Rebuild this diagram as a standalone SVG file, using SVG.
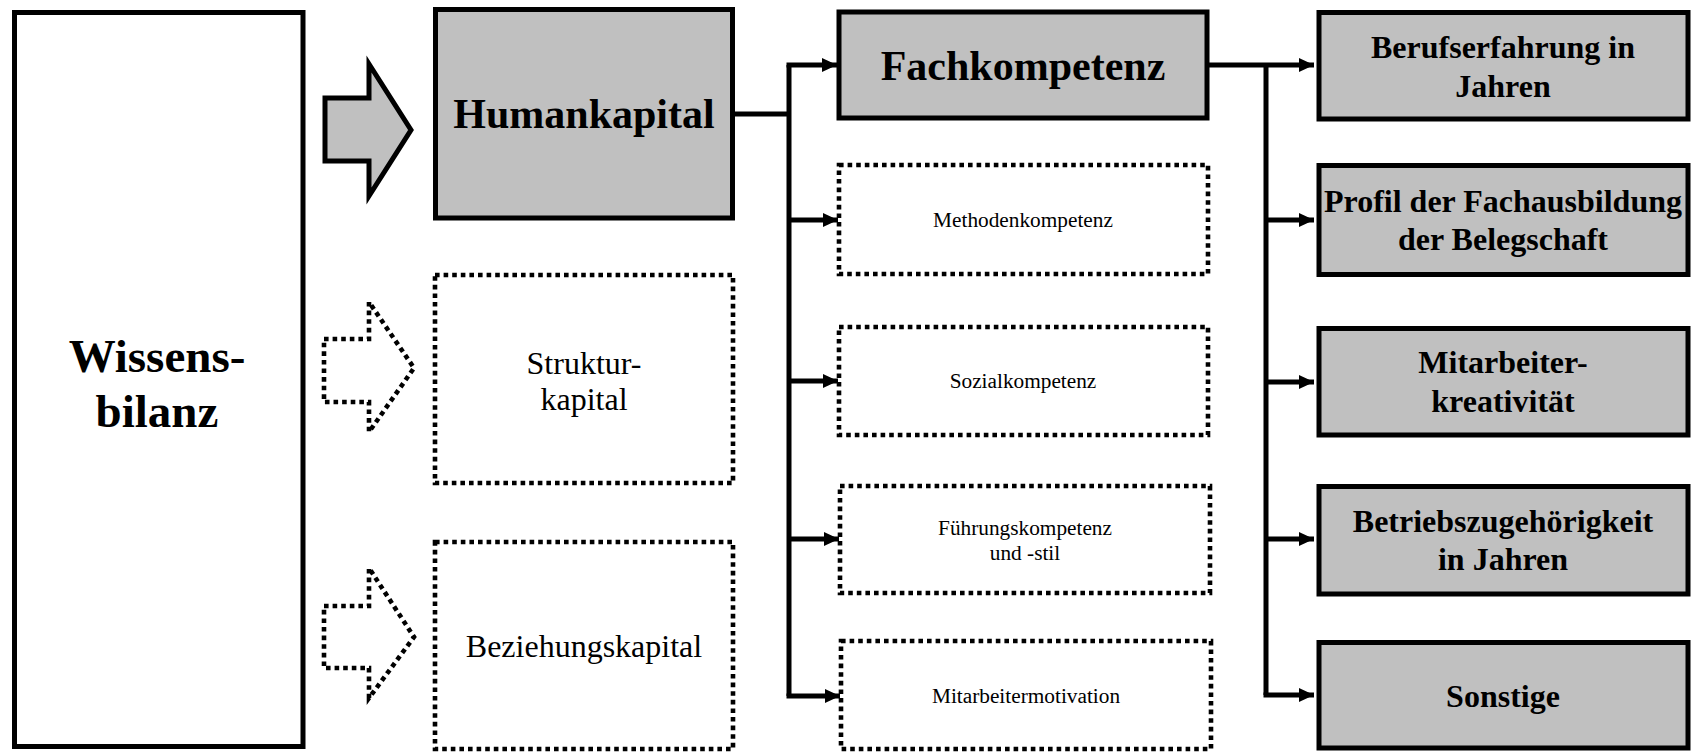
<svg xmlns="http://www.w3.org/2000/svg" width="1696" height="752" viewBox="0 0 1696 752">
<style>
  .solid{fill:#c0c0c0;stroke:#000;stroke-width:5}
  .white{fill:#fff;stroke:#000;stroke-width:5}
  .dot{fill:#fff;stroke:#000;stroke-width:4.6;stroke-dasharray:4.6 4}
  .conn{fill:none;stroke:#000;stroke-width:5}
  text{font-family:"Liberation Serif","Times New Roman",serif;fill:#000;text-anchor:middle}
  .big{font-size:47px;font-weight:bold}
  .h{font-size:42px;font-weight:bold}
  .r{font-size:32px;font-weight:bold}
  .m{font-size:32px}
  .s{font-size:21.3px}
</style>
<defs>
  <marker id="ah" markerUnits="userSpaceOnUse" markerWidth="16" markerHeight="16" refX="15" refY="7" orient="auto">
    <path d="M0,0 L15,7 L0,14 z" fill="#000"/>
  </marker>
</defs>
<rect width="1696" height="752" fill="#fff"/>

<g id="wissensbilanz">
  <rect class="white" x="14.5" y="12.5" width="288.5" height="734"/>
  <text class="big" x="157" y="372">Wissens-</text>
  <text class="big" x="157" y="427">bilanz</text>
</g>

<g id="arrow-human">
  <polygon class="solid" points="325,98 369,98 369,64 411,130 369,196 369,161 325,161"/>
</g>
<g id="arrow-struktur">
  <polygon class="dot" points="324,339 369,339 369,302 414,368 369,432 369,402 324,402"/>
</g>
<g id="arrow-beziehung">
  <polygon class="dot" points="324,606 369,606 369,568 414,637 369,698 369,668 324,668"/>
</g>

<g id="humankapital">
  <rect class="solid" x="435.5" y="9.5" width="297" height="208.5"/>
  <text class="h" x="584" y="128">Humankapital</text>
</g>
<g id="strukturkapital">
  <rect class="dot" x="435" y="275" width="298" height="208"/>
  <text class="m" x="584" y="374">Struktur-</text>
  <text class="m" x="584" y="410">kapital</text>
</g>
<g id="beziehungskapital">
  <rect class="dot" x="435" y="542" width="298" height="207"/>
  <text class="m" x="584" y="657">Beziehungskapital</text>
</g>

<g id="fachkompetenz">
  <rect class="solid" x="839" y="12" width="368" height="106"/>
  <text class="h" x="1023" y="80">Fachkompetenz</text>
</g>
<g id="methodenkompetenz">
  <rect class="dot" x="839" y="165" width="369" height="109"/>
  <text class="s" x="1023" y="227">Methodenkompetenz</text>
</g>
<g id="sozialkompetenz">
  <rect class="dot" x="839" y="327" width="369" height="108"/>
  <text class="s" x="1023" y="388">Sozialkompetenz</text>
</g>
<g id="fuehrungskompetenz">
  <rect class="dot" x="840" y="486" width="370" height="107"/>
  <text class="s" x="1025" y="535">Führungskompetenz</text>
  <text class="s" x="1025" y="560">und -stil</text>
</g>
<g id="mitarbeitermotivation">
  <rect class="dot" x="841" y="641" width="370" height="108"/>
  <text class="s" x="1026" y="703">Mitarbeitermotivation</text>
</g>

<g id="berufserfahrung">
  <rect class="solid" x="1319" y="12.5" width="369" height="106.5"/>
  <text class="r" x="1503" y="58">Berufserfahrung in</text>
  <text class="r" x="1503" y="97">Jahren</text>
</g>
<g id="fachausbildung">
  <rect class="solid" x="1319" y="165.5" width="369" height="109"/>
  <text class="r" x="1503" y="212">Profil der Fachausbildung</text>
  <text class="r" x="1503" y="250">der Belegschaft</text>
</g>
<g id="kreativitaet">
  <rect class="solid" x="1319" y="328.5" width="369" height="106.5"/>
  <text class="r" x="1503" y="373">Mitarbeiter-</text>
  <text class="r" x="1503" y="412">kreativität</text>
</g>
<g id="betriebszugehoerigkeit">
  <rect class="solid" x="1319" y="486.5" width="369" height="107.5"/>
  <text class="r" x="1503" y="532">Betriebszugehörigkeit</text>
  <text class="r" x="1503" y="570">in Jahren</text>
</g>
<g id="sonstige">
  <rect class="solid" x="1319" y="642.5" width="369" height="105.5"/>
  <text class="r" x="1503" y="707">Sonstige</text>
</g>

<g id="connectors">
  <path class="conn" d="M735,114 H789"/>
  <path class="conn" d="M789,65 V696"/>
  <path class="conn" d="M786.5,65 H837" marker-end="url(#ah)"/>
  <path class="conn" d="M789,220 H838" marker-end="url(#ah)"/>
  <path class="conn" d="M789,381 H838" marker-end="url(#ah)"/>
  <path class="conn" d="M789,539 H839" marker-end="url(#ah)"/>
  <path class="conn" d="M786.5,696 H840" marker-end="url(#ah)"/>
  <path class="conn" d="M1207,65 H1314" marker-end="url(#ah)"/>
  <path class="conn" d="M1266,65 V695"/>
  <path class="conn" d="M1266,220 H1314" marker-end="url(#ah)"/>
  <path class="conn" d="M1266,382 H1314" marker-end="url(#ah)"/>
  <path class="conn" d="M1266,539 H1314" marker-end="url(#ah)"/>
  <path class="conn" d="M1263.5,695 H1314" marker-end="url(#ah)"/>
</g>
</svg>
